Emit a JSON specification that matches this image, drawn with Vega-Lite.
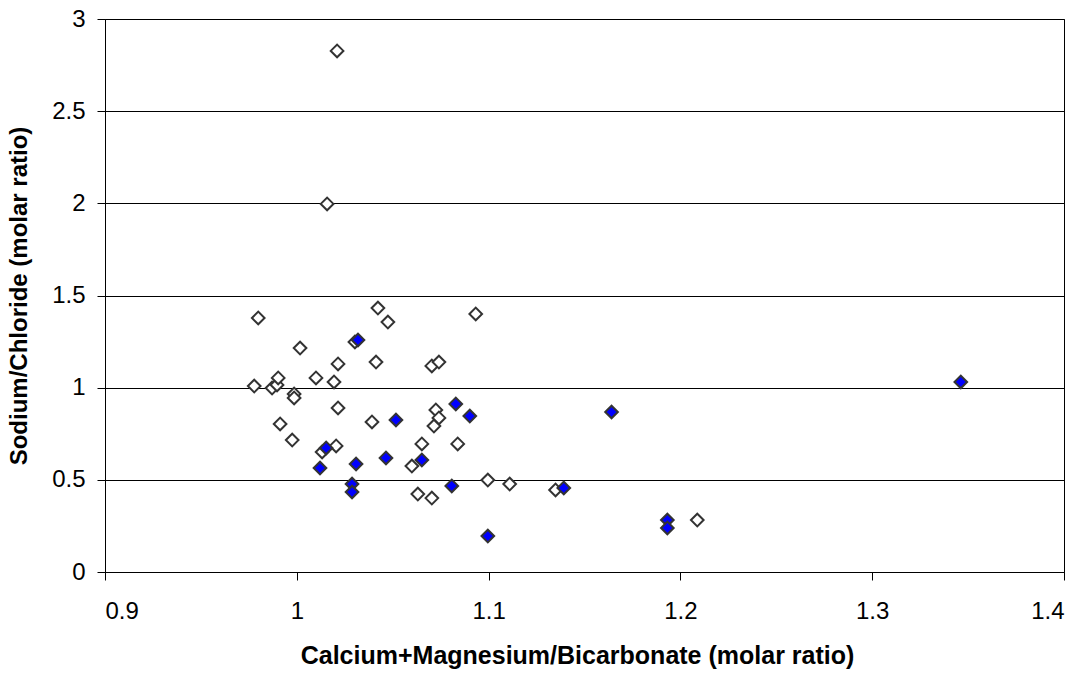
{
  "$schema": "https://vega.github.io/schema/vega-lite/v6.json",
  "width": 959,
  "height": 553,
  "autosize": {"type": "none"},
  "padding": {"left": 105, "top": 19, "right": 23, "bottom": 103},
  "background": "white",
  "config": {
    "view": {"stroke": "black", "strokeWidth": 1},
    "font": "Liberation Sans",
    "axis": {
      "labelFont": "Liberation Sans",
      "labelFontSize": 24,
      "labelColor": "black",
      "titleFont": "Liberation Sans",
      "titleFontWeight": "bold",
      "titleColor": "black",
      "domainColor": "black",
      "tickColor": "black",
      "tickSize": 8,
      "gridColor": "black",
      "gridWidth": 1
    }
  },
  "data": {
    "values": [
      {"x": 1.021, "y": 2.827, "series": "open"},
      {"x": 1.0158, "y": 1.997, "series": "open"},
      {"x": 0.9799, "y": 1.378, "series": "open"},
      {"x": 1.0017, "y": 1.215, "series": "open"},
      {"x": 0.9778, "y": 1.009, "series": "open"},
      {"x": 0.9871, "y": 0.998, "series": "open"},
      {"x": 0.9897, "y": 1.015, "series": "open"},
      {"x": 0.9903, "y": 1.053, "series": "open"},
      {"x": 0.9986, "y": 0.966, "series": "open"},
      {"x": 0.9986, "y": 0.944, "series": "open"},
      {"x": 0.9913, "y": 0.803, "series": "open"},
      {"x": 0.9976, "y": 0.716, "series": "open"},
      {"x": 1.01, "y": 1.053, "series": "open"},
      {"x": 1.0194, "y": 1.031, "series": "open"},
      {"x": 1.0215, "y": 1.129, "series": "open"},
      {"x": 1.0215, "y": 0.89, "series": "open"},
      {"x": 1.0423, "y": 1.432, "series": "open"},
      {"x": 1.0475, "y": 1.356, "series": "open"},
      {"x": 1.0413, "y": 1.139, "series": "open"},
      {"x": 1.0392, "y": 0.814, "series": "open"},
      {"x": 1.0303, "y": 1.248, "series": "open"},
      {"x": 1.0205, "y": 0.684, "series": "open"},
      {"x": 1.0132, "y": 0.651, "series": "open"},
      {"x": 1.0652, "y": 0.695, "series": "open"},
      {"x": 1.06, "y": 0.575, "series": "open"},
      {"x": 1.0631, "y": 0.423, "series": "open"},
      {"x": 1.0704, "y": 0.401, "series": "open"},
      {"x": 1.0839, "y": 0.695, "series": "open"},
      {"x": 1.0996, "y": 0.499, "series": "open"},
      {"x": 1.111, "y": 0.477, "series": "open"},
      {"x": 1.1349, "y": 0.445, "series": "open"},
      {"x": 1.2088, "y": 0.282, "series": "open"},
      {"x": 1.0933, "y": 1.4, "series": "open"},
      {"x": 1.0704, "y": 1.118, "series": "open"},
      {"x": 1.0741, "y": 1.139, "series": "open"},
      {"x": 1.0725, "y": 0.879, "series": "open"},
      {"x": 1.0741, "y": 0.836, "series": "open"},
      {"x": 1.0715, "y": 0.792, "series": "open"},
      {"x": 1.0319, "y": 1.259, "series": "filled"},
      {"x": 1.0517, "y": 0.825, "series": "filled"},
      {"x": 1.0153, "y": 0.673, "series": "filled"},
      {"x": 1.0121, "y": 0.564, "series": "filled"},
      {"x": 1.0309, "y": 0.586, "series": "filled"},
      {"x": 1.0465, "y": 0.619, "series": "filled"},
      {"x": 1.0288, "y": 0.477, "series": "filled"},
      {"x": 1.0288, "y": 0.434, "series": "filled"},
      {"x": 1.0652, "y": 0.608, "series": "filled"},
      {"x": 1.0808, "y": 0.467, "series": "filled"},
      {"x": 1.1392, "y": 0.456, "series": "filled"},
      {"x": 1.0996, "y": 0.195, "series": "filled"},
      {"x": 1.1932, "y": 0.282, "series": "filled"},
      {"x": 1.1932, "y": 0.239, "series": "filled"},
      {"x": 1.0829, "y": 0.912, "series": "filled"},
      {"x": 1.0902, "y": 0.846, "series": "filled"},
      {"x": 1.1641, "y": 0.868, "series": "filled"},
      {"x": 1.3462, "y": 1.031, "series": "filled"}
    ]
  },
  "mark": {"type": "point", "shape": "diamond", "filled": false, "size": 160, "strokeWidth": 2, "stroke": "#333333", "opacity": 1},
  "encoding": {
    "x": {
      "field": "x", "type": "quantitative",
      "scale": {"domain": [0.9, 1.4], "nice": false, "zero": false},
      "axis": {"values": [0.9, 1.0, 1.1, 1.2, 1.3, 1.4], "format": "~g", "grid": false, "labelPadding": 19, "title": "Calcium+Magnesium/Bicarbonate (molar ratio)", "titleFontSize": 25, "titlePadding": 20, "titleX": 472}
    },
    "y": {
      "field": "y", "type": "quantitative",
      "scale": {"domain": [0, 3], "nice": false},
      "axis": {"values": [0, 0.5, 1, 1.5, 2, 2.5, 3], "format": "~g", "grid": true, "labelPadding": 12, "title": "Sodium/Chloride (molar ratio)", "titleFontSize": 24, "titlePadding": 20}
    },
    "fill": {
      "field": "series", "type": "nominal",
      "scale": {"domain": ["open", "filled"], "range": ["#ffffff", "#0000ff"]},
      "legend": null
    }
  }
}
